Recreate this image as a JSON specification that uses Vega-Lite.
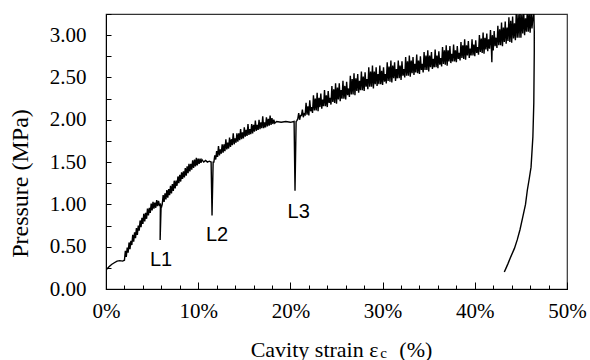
{
  "$schema": "https://vega.github.io/schema/vega-lite/v6.json",
  "width": 461,
  "height": 275,
  "autosize": "none",
  "padding": {"left": 106, "top": 14, "right": 23, "bottom": 71},
  "background": "white",
  "config": {
    "view": {"stroke": "#333333", "strokeWidth": 1.2},
    "axis": {
      "labelFont": "Liberation Serif", "labelFontSize": 21, "labelColor": "black",
      "titleFont": "Liberation Serif", "titleFontWeight": "normal", "titleColor": "black",
      "tickColor": "black", "domainColor": "black", "grid": false
    },
    "axisY": {"labelFont": "Liberation Serif", "labelFontSize": 21}
  },
  "resolve": {"axis": {"x": "independent"}},
  "layer": [
    {
      "data": {"values": [
        {"x":0.05,"y":0.23},{"x":0.3,"y":0.26},{"x":0.6,"y":0.29},{"x":0.9,"y":0.31},{"x":1.2,"y":0.33},{"x":1.5,"y":0.335},{"x":1.8,"y":0.33},
        {"x":2.0,"y":0.34},{"x":2.1,"y":0.45},{"x":2.2,"y":0.38},{"x":2.3,"y":0.49},{"x":2.4,"y":0.43},{"x":2.5,"y":0.55},{"x":2.6,"y":0.47},{"x":2.7,"y":0.57},{"x":2.8,"y":0.52},{"x":2.9,"y":0.64},{"x":3.0,"y":0.56},{"x":3.1,"y":0.67},{"x":3.2,"y":0.60},{"x":3.3,"y":0.72},{"x":3.4,"y":0.64},{"x":3.5,"y":0.75},{"x":3.6,"y":0.69},{"x":3.7,"y":0.81},{"x":3.8,"y":0.73},{"x":3.9,"y":0.84},{"x":4.0,"y":0.77},{"x":4.1,"y":0.89},{"x":4.2,"y":0.80},{"x":4.3,"y":0.90},{"x":4.4,"y":0.83},{"x":4.5,"y":0.95},{"x":4.6,"y":0.87},{"x":4.7,"y":0.96},{"x":4.8,"y":0.90},{"x":4.9,"y":1.01},{"x":5.0,"y":0.93},{"x":5.1,"y":1.03},{"x":5.2,"y":0.95},{"x":5.3,"y":1.02},{"x":5.4,"y":0.96},{"x":5.5,"y":1.05},{"x":5.6,"y":0.98},{"x":5.7,"y":1.04},{"x":5.8,"y":0.99},{"x":5.9,"y":1.00},
        {"x":5.87,"y":0.58},{"x":5.98,"y":0.99},{"x":6.05,"y":0.98},
        {"x":6.1,"y":1.00},{"x":6.2,"y":1.11},{"x":6.3,"y":1.03},{"x":6.4,"y":1.13},{"x":6.5,"y":1.06},{"x":6.6,"y":1.17},{"x":6.7,"y":1.08},{"x":6.8,"y":1.18},{"x":6.9,"y":1.11},{"x":7.0,"y":1.22},{"x":7.1,"y":1.13},{"x":7.2,"y":1.24},{"x":7.3,"y":1.16},{"x":7.4,"y":1.28},{"x":7.5,"y":1.19},{"x":7.6,"y":1.28},{"x":7.7,"y":1.22},{"x":7.8,"y":1.33},{"x":7.9,"y":1.25},{"x":8.0,"y":1.35},{"x":8.1,"y":1.27},{"x":8.2,"y":1.38},{"x":8.3,"y":1.30},{"x":8.4,"y":1.39},{"x":8.5,"y":1.32},{"x":8.6,"y":1.43},{"x":8.7,"y":1.34},{"x":8.8,"y":1.45},{"x":8.9,"y":1.37},{"x":9.0,"y":1.48},{"x":9.1,"y":1.39},{"x":9.2,"y":1.48},{"x":9.3,"y":1.41},{"x":9.4,"y":1.52},{"x":9.5,"y":1.43},{"x":9.6,"y":1.53},{"x":9.7,"y":1.45},{"x":9.8,"y":1.55},{"x":9.9,"y":1.46},{"x":10.0,"y":1.54},{"x":10.1,"y":1.48},{"x":10.2,"y":1.54},{"x":10.3,"y":1.49},{"x":10.4,"y":1.53},{"x":10.6,"y":1.50},{"x":10.8,"y":1.52},{"x":11.0,"y":1.50},{"x":11.2,"y":1.51},{"x":11.4,"y":1.50},
        {"x":11.5,"y":0.87},{"x":11.62,"y":1.50},{"x":11.7,"y":1.50},
        {"x":11.8,"y":1.58},{"x":11.9,"y":1.53},{"x":12.0,"y":1.63},{"x":12.1,"y":1.56},{"x":12.2,"y":1.69},{"x":12.3,"y":1.58},{"x":12.4,"y":1.65},{"x":12.5,"y":1.60},{"x":12.6,"y":1.71},{"x":12.7,"y":1.61},{"x":12.8,"y":1.71},{"x":12.9,"y":1.63},{"x":13.0,"y":1.77},{"x":13.1,"y":1.65},{"x":13.2,"y":1.73},{"x":13.3,"y":1.66},{"x":13.4,"y":1.79},{"x":13.5,"y":1.68},{"x":13.6,"y":1.77},{"x":13.7,"y":1.70},{"x":13.8,"y":1.84},{"x":13.9,"y":1.71},{"x":14.0,"y":1.78},{"x":14.1,"y":1.73},{"x":14.2,"y":1.84},{"x":14.3,"y":1.74},{"x":14.4,"y":1.84},{"x":14.5,"y":1.76},{"x":14.6,"y":1.89},{"x":14.7,"y":1.77},{"x":14.8,"y":1.85},{"x":14.9,"y":1.78},{"x":15.0,"y":1.91},{"x":15.1,"y":1.80},{"x":15.2,"y":1.88},{"x":15.3,"y":1.81},{"x":15.4,"y":1.95},{"x":15.5,"y":1.82},{"x":15.6,"y":1.89},{"x":15.7,"y":1.83},{"x":15.8,"y":1.95},{"x":15.9,"y":1.84},{"x":16.0,"y":1.94},{"x":16.1,"y":1.86},{"x":16.2,"y":1.99},{"x":16.3,"y":1.87},{"x":16.4,"y":1.94},{"x":16.5,"y":1.88},{"x":16.6,"y":2.00},{"x":16.7,"y":1.89},{"x":16.8,"y":1.97},{"x":16.9,"y":1.90},{"x":17.0,"y":2.04},{"x":17.1,"y":1.90},{"x":17.2,"y":1.97},{"x":17.3,"y":1.91},{"x":17.4,"y":2.03},{"x":17.5,"y":1.92},{"x":17.6,"y":2.01},{"x":17.7,"y":1.93},{"x":17.8,"y":2.05},{"x":17.9,"y":1.94},{"x":18.0,"y":2.02},{"x":18.1,"y":1.95},{"x":18.2,"y":2.00},{"x":18.3,"y":1.96},
        {"x":18.5,"y":1.98},{"x":19.0,"y":1.97},{"x":19.5,"y":1.98},{"x":20.0,"y":1.97},{"x":20.4,"y":1.98},
        {"x":20.5,"y":1.16},{"x":20.62,"y":1.98},{"x":20.7,"y":1.99},
        {"x":20.8,"y":2.01},{"x":20.9,"y":2.08},{"x":21.0,"y":2.00},{"x":21.1,"y":2.05},{"x":21.2,"y":2.05},{"x":21.3,"y":2.12},{"x":21.4,"y":2.03},{"x":21.5,"y":2.07},{"x":21.6,"y":2.06},{"x":21.7,"y":2.20},{"x":21.8,"y":2.06},{"x":21.9,"y":2.16},{"x":22.0,"y":2.05},{"x":22.1,"y":2.23},{"x":22.2,"y":2.10},{"x":22.3,"y":2.15},{"x":22.4,"y":2.08},{"x":22.5,"y":2.29},{"x":22.6,"y":2.11},{"x":22.7,"y":2.25},{"x":22.8,"y":2.11},{"x":22.9,"y":2.32},{"x":23.0,"y":2.10},{"x":23.1,"y":2.26},{"x":23.2,"y":2.15},{"x":23.3,"y":2.31},{"x":23.4,"y":2.13},{"x":23.5,"y":2.24},{"x":23.6,"y":2.16},{"x":23.7,"y":2.35},{"x":23.8,"y":2.16},{"x":23.9,"y":2.29},{"x":24.0,"y":2.15},{"x":24.1,"y":2.34},{"x":24.2,"y":2.20},{"x":24.3,"y":2.26},{"x":24.4,"y":2.18},{"x":24.5,"y":2.40},{"x":24.6,"y":2.21},{"x":24.7,"y":2.36},{"x":24.8,"y":2.20},{"x":24.9,"y":2.43},{"x":25.0,"y":2.19},{"x":25.1,"y":2.38},{"x":25.2,"y":2.24},{"x":25.3,"y":2.43},{"x":25.4,"y":2.22},{"x":25.5,"y":2.35},{"x":25.6,"y":2.25},{"x":25.7,"y":2.46},{"x":25.8,"y":2.25},{"x":25.9,"y":2.40},{"x":26.0,"y":2.24},{"x":26.1,"y":2.45},{"x":26.2,"y":2.29},{"x":26.3,"y":2.37},{"x":26.4,"y":2.27},{"x":26.5,"y":2.52},{"x":26.6,"y":2.30},{"x":26.7,"y":2.48},{"x":26.8,"y":2.30},{"x":26.9,"y":2.55},{"x":27.0,"y":2.29},{"x":27.1,"y":2.49},{"x":27.2,"y":2.34},{"x":27.3,"y":2.54},{"x":27.4,"y":2.32},{"x":27.5,"y":2.46},{"x":27.6,"y":2.35},{"x":27.7,"y":2.57},{"x":27.8,"y":2.35},{"x":27.9,"y":2.51},{"x":28.0,"y":2.34},{"x":28.1,"y":2.56},{"x":28.2,"y":2.39},{"x":28.3,"y":2.48},{"x":28.4,"y":2.36},{"x":28.5,"y":2.62},{"x":28.6,"y":2.39},{"x":28.7,"y":2.57},{"x":28.8,"y":2.39},{"x":28.9,"y":2.64},{"x":29.0,"y":2.37},{"x":29.1,"y":2.57},{"x":29.2,"y":2.42},{"x":29.3,"y":2.62},{"x":29.4,"y":2.40},{"x":29.5,"y":2.54},{"x":29.6,"y":2.42},{"x":29.7,"y":2.64},{"x":29.8,"y":2.42},{"x":29.9,"y":2.58},{"x":30.0,"y":2.41},{"x":30.1,"y":2.62},{"x":30.2,"y":2.45},{"x":30.3,"y":2.54},{"x":30.4,"y":2.43},{"x":30.5,"y":2.68},{"x":30.6,"y":2.46},{"x":30.7,"y":2.63},{"x":30.8,"y":2.45},{"x":30.9,"y":2.70},{"x":31.0,"y":2.44},{"x":31.1,"y":2.64},{"x":31.2,"y":2.49},{"x":31.3,"y":2.68},{"x":31.4,"y":2.46},{"x":31.5,"y":2.60},{"x":31.6,"y":2.49},{"x":31.7,"y":2.70},{"x":31.8,"y":2.49},{"x":31.9,"y":2.64},{"x":32.0,"y":2.47},{"x":32.1,"y":2.69},{"x":32.2,"y":2.52},{"x":32.3,"y":2.60},{"x":32.4,"y":2.50},{"x":32.5,"y":2.74},{"x":32.6,"y":2.52},{"x":32.7,"y":2.69},{"x":32.8,"y":2.52},{"x":32.9,"y":2.76},{"x":33.0,"y":2.51},{"x":33.1,"y":2.70},{"x":33.2,"y":2.55},{"x":33.3,"y":2.74},{"x":33.4,"y":2.53},{"x":33.5,"y":2.66},{"x":33.6,"y":2.56},{"x":33.7,"y":2.77},{"x":33.8,"y":2.55},{"x":33.9,"y":2.70},{"x":34.0,"y":2.54},{"x":34.1,"y":2.75},{"x":34.2,"y":2.59},{"x":34.3,"y":2.66},{"x":34.4,"y":2.56},{"x":34.5,"y":2.80},{"x":34.6,"y":2.59},{"x":34.7,"y":2.76},{"x":34.8,"y":2.59},{"x":34.9,"y":2.82},{"x":35.0,"y":2.57},{"x":35.1,"y":2.76},{"x":35.2,"y":2.62},{"x":35.3,"y":2.80},{"x":35.4,"y":2.60},{"x":35.5,"y":2.72},{"x":35.6,"y":2.62},{"x":35.7,"y":2.83},{"x":35.8,"y":2.62},{"x":35.9,"y":2.76},{"x":36.0,"y":2.61},{"x":36.1,"y":2.81},{"x":36.2,"y":2.65},{"x":36.3,"y":2.73},{"x":36.4,"y":2.63},{"x":36.5,"y":2.86},{"x":36.6,"y":2.66},{"x":36.7,"y":2.82},{"x":36.8,"y":2.65},{"x":36.9,"y":2.88},{"x":37.0,"y":2.64},{"x":37.1,"y":2.82},{"x":37.2,"y":2.69},{"x":37.3,"y":2.87},{"x":37.4,"y":2.67},{"x":37.5,"y":2.78},{"x":37.6,"y":2.69},{"x":37.7,"y":2.89},{"x":37.8,"y":2.69},{"x":37.9,"y":2.82},{"x":38.0,"y":2.68},{"x":38.1,"y":2.87},{"x":38.2,"y":2.72},{"x":38.3,"y":2.79},{"x":38.4,"y":2.70},{"x":38.5,"y":2.92},{"x":38.6,"y":2.73},{"x":38.7,"y":2.88},{"x":38.8,"y":2.72},{"x":38.9,"y":2.95},{"x":39.0,"y":2.71},{"x":39.1,"y":2.88},{"x":39.2,"y":2.76},{"x":39.3,"y":2.93},{"x":39.4,"y":2.73},{"x":39.5,"y":2.84},{"x":39.6,"y":2.76},{"x":39.7,"y":2.95},{"x":39.8,"y":2.76},{"x":39.9,"y":2.89},{"x":40.0,"y":2.75},{"x":40.1,"y":2.94},{"x":40.2,"y":2.79},{"x":40.3,"y":2.86},{"x":40.4,"y":2.77},{"x":40.5,"y":3.00},{"x":40.6,"y":2.80},{"x":40.7,"y":2.96},{"x":40.8,"y":2.79},{"x":40.9,"y":3.03},{"x":41.0,"y":2.78},{"x":41.1,"y":2.97},{"x":41.2,"y":2.83},{"x":41.3,"y":3.02},{"x":41.4,"y":2.81},{"x":41.5,"y":2.95},{"x":41.6,"y":2.84},{"x":41.7,"y":3.06},{"x":41.8,"y":2.84},{"x":41.85,"y":2.68},{"x":41.9,"y":3.00},{"x":42.0,"y":2.82},{"x":42.1,"y":3.05},{"x":42.2,"y":2.87},{"x":42.3,"y":2.97},{"x":42.4,"y":2.85},{"x":42.5,"y":3.11},{"x":42.6,"y":2.88},{"x":42.7,"y":3.07},{"x":42.8,"y":2.88},{"x":42.9,"y":3.15},{"x":43.0,"y":2.87},{"x":43.1,"y":3.09},{"x":43.2,"y":2.92},{"x":43.3,"y":3.16},{"x":43.4,"y":2.90},{"x":43.5,"y":3.09},{"x":43.6,"y":2.93},{"x":43.7,"y":3.21},{"x":43.8,"y":2.92},{"x":43.9,"y":3.17},{"x":44.0,"y":2.91},{"x":44.1,"y":3.22},{"x":44.2,"y":2.96},{"x":44.3,"y":3.14},{"x":44.4,"y":2.94},{"x":44.5,"y":3.28},{"x":44.6,"y":2.97},{"x":44.7,"y":3.24},{"x":44.8,"y":2.97},{"x":44.9,"y":3.30},{"x":45.0,"y":2.97},{"x":45.1,"y":3.24},{"x":45.2,"y":3.02},{"x":45.3,"y":3.29},{"x":45.4,"y":3.00},{"x":45.5,"y":3.20},{"x":45.6,"y":3.04},{"x":45.7,"y":3.31},{"x":45.8,"y":3.04},{"x":45.9,"y":3.25},{"x":46.0,"y":3.03},{"x":46.1,"y":3.29},{"x":46.2,"y":3.08},{"x":46.3,"y":3.21},{"x":46.4,"y":3.30},{"x":46.45,"y":3.05},
        {"x":46.45,"y":2.8},{"x":46.4,"y":2.2},{"x":46.3,"y":1.8},{"x":46.1,"y":1.44},{"x":45.9,"y":1.3},{"x":45.7,"y":1.17},{"x":45.5,"y":1.0},{"x":45.2,"y":0.85},{"x":44.9,"y":0.7},{"x":44.6,"y":0.58},{"x":44.3,"y":0.48},{"x":43.9,"y":0.38},{"x":43.6,"y":0.30},{"x":43.4,"y":0.25},{"x":43.2,"y":0.2}
      ]},
      "mark": {"type": "line", "color": "black", "strokeWidth": 1.4, "clip": true},
      "encoding": {
        "x": {
          "field": "x", "type": "quantitative",
          "scale": {"domain": [0, 50], "nice": false, "zero": false},
          "axis": {
            "orient": "bottom",
            "values": [0,2,4,6,8,10,12,14,16,18,20,22,24,26,28,30,32,34,36,38,40,42,44,46,48,50],
            "labels": false, "title": null,
            "tickSize": -4
          }
        },
        "y": {
          "field": "y", "type": "quantitative",
          "scale": {"domain": [0, 3.25], "nice": false, "zero": false},
          "axis": {
            "values": [0,0.25,0.5,0.75,1,1.25,1.5,1.75,2,2.25,2.5,2.75,3,3.25],
            "labelExpr": "(datum.value * 4) % 2 == 0 && datum.value < 3.2 ? format(datum.value, '.2f') : ''",
            "labelOverlap": false, "labelFlush": false,
            "tickSize": -5,
            "labelFont": "Liberation Serif", "labelFontSize": 21, "labelPadding": 25,
            "title": "Pressure (MPa)",
            "titleFont": "Liberation Serif", "titleFontSize": 24,
            "titleX": -86, "titleY": 169, "titleBaseline": "middle", "titleAlign": "center"
          }
        },
        "order": {"value": null}
      }
    },
    {
      "data": {"values": [
        {"x": 5.97, "y": 0.34, "t": "L1"},
        {"x": 12.04, "y": 0.64, "t": "L2"},
        {"x": 20.9, "y": 0.91, "t": "L3"}
      ]},
      "mark": {"type": "text", "font": "Liberation Sans", "fontSize": 20, "color": "black", "baseline": "middle", "align": "center"},
      "encoding": {
        "x": {
          "field": "x", "type": "quantitative",
          "axis": {
            "orient": "bottom",
            "values": [0,10,20,30,40,50],
            "labelExpr": "datum.value + '%'",
            "labelOverlap": false, "labelFlush": false,
            "tickSize": -7,
            "labelFont": "Liberation Serif", "labelFontSize": 21, "labelPadding": 18,
            "title": "Cavity strain ε\u2002\u00a0\u2009(%)",
            "titleFont": "Liberation Serif", "titleFontSize": 22,
            "titleX": 235, "titleY": 67, "titleBaseline": "alphabetic", "titleAlign": "center"
          }
        },
        "y": {
          "field": "y", "type": "quantitative",
          "axis": {
            "values": [0,0.25,0.5,0.75,1,1.25,1.5,1.75,2,2.25,2.5,2.75,3,3.25],
            "labelExpr": "(datum.value * 4) % 2 == 0 && datum.value < 3.2 ? format(datum.value, '.2f') : ''",
            "labelOverlap": false, "labelFlush": false,
            "tickSize": -5,
            "labelFont": "Liberation Serif", "labelFontSize": 21, "labelPadding": 25,
            "title": "Pressure (MPa)",
            "titleFont": "Liberation Serif", "titleFontSize": 24,
            "titleX": -86, "titleY": 169, "titleBaseline": "middle", "titleAlign": "center"
          }
        },
        "text": {"field": "t"}
      }
    },
    {
      "data": {"values": [{"x": 30.1, "y": -0.757, "t": "c"}]},
      "mark": {"type": "text", "font": "Liberation Serif", "fontSize": 15, "color": "black", "baseline": "middle", "align": "center", "clip": false},
      "encoding": {
        "x": {"field": "x", "type": "quantitative", "axis": null},
        "y": {
          "field": "y", "type": "quantitative",
          "axis": {
            "values": [0,0.25,0.5,0.75,1,1.25,1.5,1.75,2,2.25,2.5,2.75,3,3.25],
            "labelExpr": "(datum.value * 4) % 2 == 0 && datum.value < 3.2 ? format(datum.value, '.2f') : ''",
            "labelOverlap": false, "labelFlush": false,
            "tickSize": -5,
            "labelFont": "Liberation Serif", "labelFontSize": 21, "labelPadding": 25,
            "title": "Pressure (MPa)",
            "titleFont": "Liberation Serif", "titleFontSize": 24,
            "titleX": -86, "titleY": 169, "titleBaseline": "middle", "titleAlign": "center"
          }
        },
        "text": {"field": "t"}
      }
    }
  ]
}
